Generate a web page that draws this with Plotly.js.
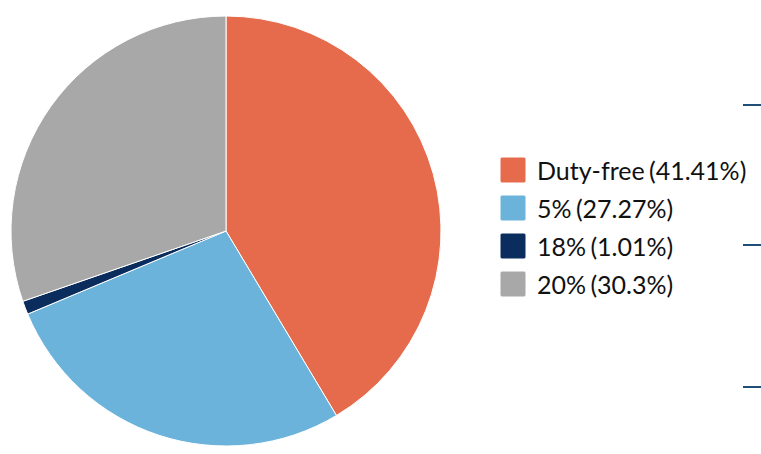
<!DOCTYPE html>
<html>
<head>
<meta charset="utf-8">
<script src="https://cdn.plot.ly/plotly-3.0.1.min.js"></script>
<style>html,body{margin:0;padding:0;background:#fff;}#chart{width:761px;height:454px;}</style>
</head>
<body>
<div id="chart"></div>
<script>
const categories = ["Duty-free", "5%", "18%", "20%"];
const shares = [41.41, 27.27, 1.01, 30.3];
const legendLabels = ["Duty-free (41.41%)", "5% (27.27%)", "18% (1.01%)", "20% (30.3%)"];
const colors = ["#E66B4C", "#6BB3DA", "#0B2D5E", "#A8A8A8"];

const W = 761, H = 454;
const trace = {
  type: "pie",
  labels: legendLabels,
  values: shares,
  sort: false,
  direction: "clockwise",
  rotation: 0,
  textinfo: "none",
  hoverinfo: "label",
  marker: {colors: colors, line: {color: "#ffffff", width: 1}},
  domain: {x: [11 / W, 441 / W], y: [1 - 446 / H, 1 - 16 / H]}
};

const dashY = [105, 245, 387];
const shapes = dashY.map(y => ({
  type: "line", xref: "paper", yref: "paper",
  x0: 743 / W, x1: 1, y0: 1 - y / H, y1: 1 - y / H,
  line: {color: "#1F4E79", width: 2}
}));

const layout = {
  width: W, height: H,
  margin: {l: 0, r: 0, t: 0, b: 0},
  paper_bgcolor: "#fff",
  showlegend: true,
  legend: {
    x: 493 / W, xanchor: "left", y: 0.5, yanchor: "middle",
    font: {family: "Lato, sans-serif", size: 25, color: "#111"},
    bgcolor: "rgba(0,0,0,0)"
  },
  shapes: shapes,
  font: {family: "Lato, sans-serif"}
};

Plotly.newPlot("chart", [trace], layout, {displayModeBar: false, staticPlot: true}).then(gd => {
  const legendG = gd.querySelector(".legend");
  const items = legendG.querySelectorAll(".traces");
  const rowY = [170, 208, 246, 284];
  items.forEach((it, i) => {
    const m = (it.getAttribute("transform") || "").match(/translate\(([-\d.]+)[ ,]+([-\d.]+)\)/);
    const x = m ? parseFloat(m[1]) : 0;
    it.setAttribute("transform", "translate(" + x + "," + (rowY[i] - 170) + ")");
    const p = it.querySelector(".legendpoints path");
    if (p) p.setAttribute("d", "M13,11Q13,13 11,13H-11Q-13,13 -13,11V-11Q-13,-13 -11,-13H11Q13,-13 13,-11Z");
    const t = it.querySelector("text.legendtext");
    if (t) { t.setAttribute("x", 44); t.style.wordSpacing = "-2px"; }
  });
  const mm = legendG.getAttribute("transform").match(/translate\(([-\d.]+)[ ,]+([-\d.]+)\)/);
  const lx = parseFloat(mm[1]);
  legendG.setAttribute("transform", "translate(" + lx + ",170)");
  const bg = legendG.querySelector(".bg");
  if (bg) bg.style.display = "none";
  const sb = legendG.querySelector(".scrollbox");
  if (sb) { sb.removeAttribute("clip-path"); sb.setAttribute("transform", "translate(0,0)"); }
});
</script>
</body>
</html>
